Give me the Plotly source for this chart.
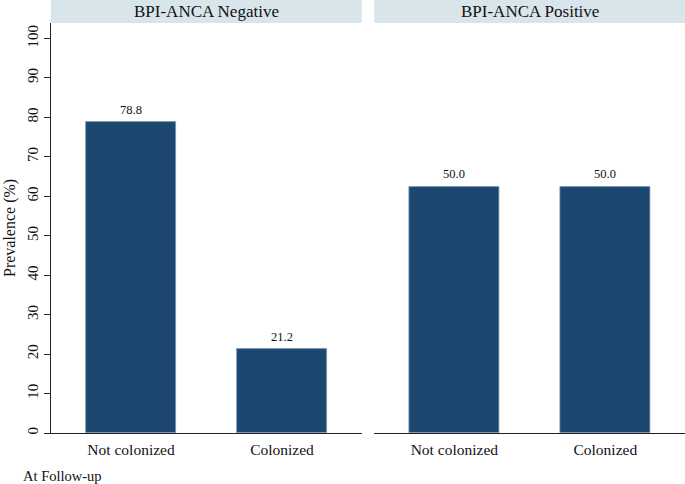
import plotly.graph_objects as go

# Data
categories = ["Not colonized", "Colonized"]
panels = ["BPI-ANCA Negative", "BPI-ANCA Positive"]
neg_values = [78.8, 21.2]
pos_values = [62.4, 62.4]
neg_labels = ["78.8", "21.2"]
pos_labels = ["50.0", "50.0"]
y_ticks = [0, 10, 20, 30, 40, 50, 60, 70, 80, 90, 100]
note_text = "At Follow-up"
y_title = "Prevalence (%)"

FONT = "Liberation Serif"
BAR = "#1c4870"
EDGE = "#7894b4"
STRIP = "#d8e5eb"

W, H = 685, 484
ML, MR, MT, MB = 51, 0, 23, 51
pw = W - ML - MR
ph = H - MT - MB

fig = go.Figure()
fig.add_trace(go.Bar(x=categories, y=neg_values, xaxis="x", yaxis="y",
                     marker=dict(color=BAR, line=dict(color=EDGE, width=0.8)),
                     width=0.6, hoverinfo="skip", showlegend=False))
fig.add_trace(go.Bar(x=categories, y=pos_values, xaxis="x2", yaxis="y",
                     marker=dict(color=BAR, line=dict(color=EDGE, width=0.8)),
                     width=0.6, hoverinfo="skip", showlegend=False))

left_end = 310.7 / pw
right_start = 323.3 / pw
xcommon = dict(type="category", range=[-0.53, 1.528], showline=True,
               linecolor="#222", linewidth=1.3, ticks="outside", ticklen=2,
               tickcolor="rgba(0,0,0,0)", showgrid=False, zeroline=False,
               tickfont=dict(family=FONT, size=15.5, color="#111"),
               categoryorder="array", categoryarray=categories)

fig.update_layout(
    width=W, height=H,
    margin=dict(l=ML, r=MR, t=MT, b=MB),
    paper_bgcolor="white", plot_bgcolor="white",
    bargap=0,
    xaxis=dict(domain=[0, left_end], anchor="y", **xcommon),
    xaxis2=dict(domain=[right_start, 1], anchor="y", **xcommon),
    yaxis=dict(range=[0, 103.9], tickvals=y_ticks, ticks="outside", ticklen=6,
               tickcolor="#222", showline=True, linecolor="#222", linewidth=1.3,
               showgrid=False, zeroline=False, tickangle=-90, anchor="x",
               tickfont=dict(family=FONT, size=15, color="#111")),
    font=dict(family=FONT),
)

strip_top = 1 + MT / ph
for i, (name, x0, x1) in enumerate([(panels[0], 0, left_end), (panels[1], right_start, 1)]):
    fig.add_shape(type="rect", xref="paper", yref="paper", x0=x0, x1=x1,
                  y0=1.0, y1=strip_top + 0.01, fillcolor=STRIP, line=dict(width=0),
                  layer="below")
    fig.add_annotation(text=name, xref="paper", yref="paper", x=(x0 + x1) / 2,
                       y=1 + (MT - 11.5) / ph, xanchor="center", yanchor="middle",
                       showarrow=False, font=dict(family=FONT, size=17, color="#111"))

for xa, vals, labs in [("x", neg_values, neg_labels), ("x2", pos_values, pos_labels)]:
    for c, v, t in zip(categories, vals, labs):
        fig.add_annotation(text=t, xref=xa, yref="y", x=c, y=v, yshift=12.5,
                           xanchor="center", yanchor="middle", showarrow=False,
                           font=dict(family=FONT, size=12.5, color="#111"))

fig.add_annotation(text=y_title, xref="paper", yref="paper", x=(10 - ML) / pw,
                   y=0.5, xanchor="center", yanchor="middle",
                   textangle=-90, showarrow=False,
                   font=dict(family=FONT, size=16, color="#111"))
fig.add_annotation(text=note_text, xref="paper", yref="paper", x=(20.7 - ML) / pw,
                   y=(433.3 - 476.7) / ph,
                   xanchor="left", yanchor="middle", showarrow=False,
                   font=dict(family=FONT, size=14.5, color="#111"))

fig.write_html("out.html", config={"displayModeBar": False},
               post_script="document.body.style.margin='0';")
